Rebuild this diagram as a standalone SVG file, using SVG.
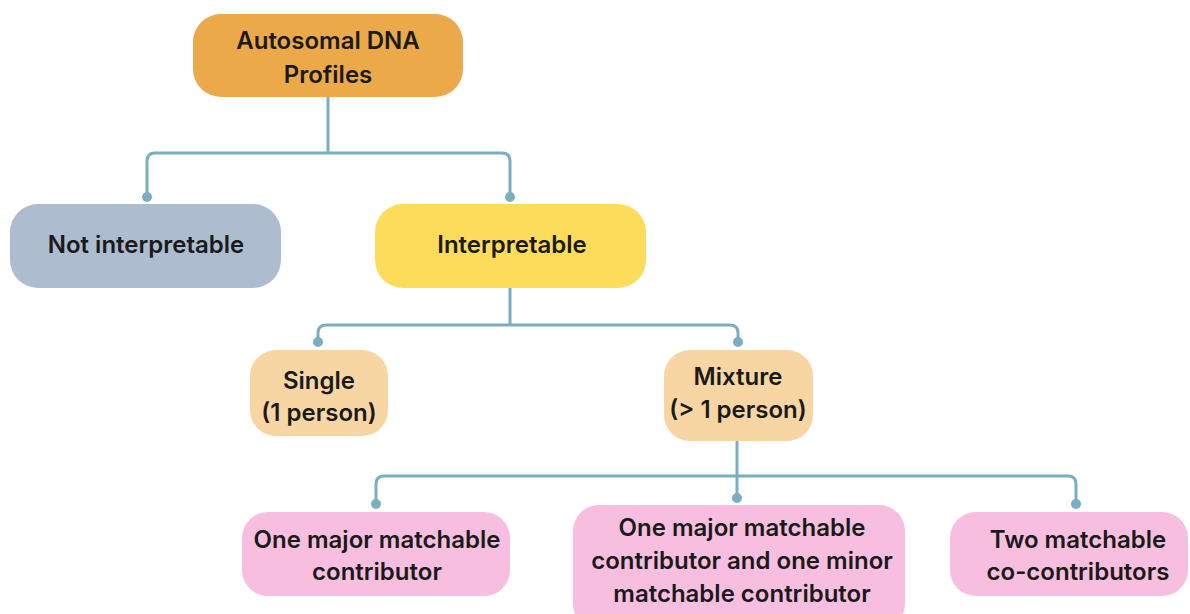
<svg xmlns="http://www.w3.org/2000/svg" width="1190" height="614" viewBox="0 0 1190 614">
<defs>
<style>
.t{font-family:Inter,"Noto Sans","Liberation Sans",sans-serif;font-weight:600;font-size:24px;fill:#1a1a1a;text-anchor:middle}
.c{fill:none;stroke:#7BAFC0;stroke-width:3}
.d{fill:#7BAFC0}
</style>
</defs>
<rect width="1190" height="614" fill="#ffffff"/>
<g id="connectors">
<path class="c" d="M328,97 V153 M328,153 H155 Q147,153 147,161 V196 M328,153 H502 Q510,153 510,161 V196"/>
<path class="c" d="M510,288 V325 M510,325 H326 Q318,325 318,333 V342 M510,325 H730 Q738,325 738,333 V342"/>
<path class="c" d="M737,441 V476 M737,476 H384 Q376,476 376,484 V504 M737,476 V498 M737,476 H1068 Q1076,476 1076,484 V504"/>
<circle class="d" cx="147" cy="197" r="5"/>
<circle class="d" cx="510" cy="197" r="5"/>
<circle class="d" cx="318" cy="342" r="5"/>
<circle class="d" cx="738" cy="342" r="5"/>
<circle class="d" cx="376" cy="504" r="5"/>
<circle class="d" cx="737" cy="498" r="5"/>
<circle class="d" cx="1076" cy="504" r="5"/>
</g>
<g id="autosomal">
<rect x="193" y="14" width="270" height="83" rx="28" fill="#ECA94A"/>
<text class="t" x="328" y="49">Autosomal DNA</text>
<text class="t" x="328" y="83">Profiles</text>
</g>
<g id="not-interpretable">
<rect x="10" y="204" width="271" height="84" rx="28" fill="#AEBCD0"/>
<text class="t" x="146" y="253">Not interpretable</text>
</g>
<g id="interpretable">
<rect x="375" y="204" width="271" height="84" rx="28" fill="#FDDC5B"/>
<text class="t" x="512" y="253">Interpretable</text>
</g>
<g id="single">
<rect x="250" y="350" width="138" height="86" rx="26" fill="#F8D6A4"/>
<text class="t" x="319" y="389">Single</text>
<text class="t" x="319" y="421">(1 person)</text>
</g>
<g id="mixture">
<rect x="664" y="350" width="149" height="91" rx="26" fill="#F8D6A4"/>
<text class="t" x="738" y="385">Mixture</text>
<text class="t" x="738" y="418">(&gt; 1 person)</text>
</g>
<g id="one-major">
<rect x="242" y="512" width="268" height="84" rx="26" fill="#F7BEDF"/>
<text class="t" x="377" y="548">One major matchable</text>
<text class="t" x="377" y="580">contributor</text>
</g>
<g id="major-minor">
<rect x="573" y="505" width="332" height="125" rx="26" fill="#F7BEDF"/>
<text class="t" x="742" y="536">One major matchable</text>
<text class="t" x="742" y="569">contributor and one minor</text>
<text class="t" x="742" y="602">matchable contributor</text>
</g>
<g id="two-co">
<rect x="950" y="512" width="238" height="84" rx="26" fill="#F7BEDF"/>
<text class="t" x="1078" y="548">Two matchable</text>
<text class="t" x="1078" y="580">co-contributors</text>
</g>
</svg>
